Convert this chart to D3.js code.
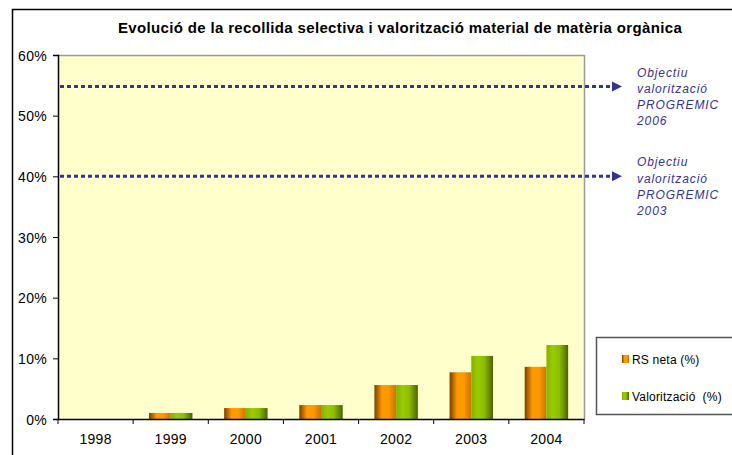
<!DOCTYPE html>
<html>
  <head>
    <meta charset="utf-8">
    <title>Recollida selectiva matèria orgànica</title>
    <script src="https://d3js.org/d3.v7.min.js"></script>
    <style>
      body { margin: 0; background: #fff; }
      svg { display: block; font-family: "Liberation Sans", Arial, sans-serif; }
      .axis text { font-size: 14px; fill: #000; letter-spacing: 0.3px; }
      .axis path, .axis line { stroke: #000; }
    </style>
  </head>
  <body>
    <svg id="chart" width="732" height="455"></svg>
    <script>
      // data
      years = ["1998", "1999", "2000", "2001", "2002", "2003", "2004"];
      rsNeta = [0, 0.010, 0.018, 0.023, 0.056, 0.077, 0.086];
      valoritzacio = [0, 0.010, 0.018, 0.023, 0.056, 0.104, 0.122];
      seriesNames = ["RS neta (%)", "Valorització  (%)"];
      yTicks = [0, 0.1, 0.2, 0.3, 0.4, 0.5, 0.6];
      targets = [0.548, 0.40];
      targetYears = ["2006", "2003"];

      svg = d3.select("#chart");
      margin = { top: 55, right: 148, bottom: 36, left: 58 };
      width = 732;
      height = 455;

      // outer frame
      svg.append("rect")
        .attr("x", 12.5).attr("y", 9.5)
        .attr("width", 740).attr("height", 460)
        .attr("fill", "#fff")
        .attr("stroke", "#000")
        .attr("stroke-width", 1.5);

      // title
      svg.append("text")
        .attr("x", 400).attr("y", 33)
        .attr("text-anchor", "middle")
        .style("font-size", "15px")
        .style("font-weight", "bold")
        .style("letter-spacing", "0.35px")
        .text("Evolució de la recollida selectiva i valorització material de matèria orgànica");

      // gradients for the bars
      defs = svg.append("defs");
      gradOrange = defs.append("linearGradient").attr("id", "gOrange");
      [["0%", "#7a4000"], ["35%", "#ff9900"], ["65%", "#ff9900"], ["100%", "#c87400"]].forEach(function(s) {
        gradOrange.append("stop").attr("offset", s[0]).attr("stop-color", s[1]);
      });
      gradGreen = defs.append("linearGradient").attr("id", "gGreen");
      [["0%", "#86b000"], ["30%", "#99cc00"], ["60%", "#8dbd00"], ["100%", "#4a6400"]].forEach(function(s) {
        gradGreen.append("stop").attr("offset", s[0]).attr("stop-color", s[1]);
      });
      fills = ["url(#gOrange)", "url(#gGreen)"];

      // scales
      x = d3.scaleBand()
        .domain(years)
        .range([margin.left, width - margin.right])
        .padding(0);
      xInner = d3.scaleBand()
        .domain([0, 1])
        .range([0, x.bandwidth()])
        .paddingInner(0)
        .paddingOuter(0.73);
      y = d3.scaleLinear()
        .domain([0, 0.6])
        .range([height - margin.bottom, margin.top]);

      // plot area
      svg.append("rect")
        .attr("x", margin.left).attr("y", margin.top)
        .attr("width", width - margin.right - margin.left)
        .attr("height", y(0) - margin.top)
        .attr("fill", "#ffffcc");
      svg.append("path")
        .attr("d", "M" + margin.left + "," + (margin.top + 0.5) + "H" + (width - margin.right + 0.5) + "V" + y(0))
        .attr("fill", "none")
        .attr("stroke", "#999")
        .attr("stroke-width", 1.5);

      // bars
      data = years.map(function(yr, i) { return { year: yr, values: [rsNeta[i], valoritzacio[i]] }; });
      groups = svg.selectAll(".year")
        .data(data)
        .enter().append("g")
          .attr("class", "year")
          .attr("transform", function(d) { return "translate(" + x(d.year) + ",0)"; });
      groups.selectAll("rect")
        .data(function(d) { return d.values; })
        .enter().append("rect")
          .attr("x", function(d, i) { return xInner(i); })
          .attr("y", function(d) { return y(d); })
          .attr("width", xInner.bandwidth())
          .attr("height", function(d) { return y(0) - y(d); })
          .attr("fill", function(d, i) { return fills[i]; });

      // y axis
      yAxis = d3.axisLeft(y)
        .tickValues(yTicks)
        .tickFormat(d3.format(".0%"))
        .tickSizeOuter(0)
        .tickSize(5)
        .tickPadding(6);
      svg.append("g")
        .attr("class", "axis")
        .attr("transform", "translate(" + margin.left + ",0)")
        .call(yAxis)
        .call(function(g) { g.select(".domain").attr("stroke", "#333").attr("stroke-width", 1.5); })
        .selectAll("text").attr("dy", "0.36em");

      // x axis: labels at band centres, ticks at band boundaries
      xAxis = d3.axisBottom(x).tickSize(0).tickPadding(15).tickSizeOuter(0);
      xg = svg.append("g")
        .attr("class", "axis")
        .attr("transform", "translate(0," + y(0) + ")")
        .call(xAxis);
      xg.select(".domain").attr("stroke", "#333").attr("stroke-width", 1.5);
      xg.selectAll(".boundary")
        .data(years.concat(["end"]))
        .enter().append("line")
          .attr("class", "boundary")
          .attr("x1", function(d, i) { return i < years.length ? x(d) : x.range()[1]; })
          .attr("x2", function(d, i) { return i < years.length ? x(d) : x.range()[1]; })
          .attr("y1", 0).attr("y2", 5)
          .attr("stroke", "#000");

      // target lines with arrows
      arrowEnd = 622;
      targetG = svg.selectAll(".target")
        .data(targets)
        .enter().append("g")
          .attr("class", "target");
      targetG.append("line")
        .attr("x1", margin.left + 2)
        .attr("x2", arrowEnd - 9)
        .attr("y1", function(d) { return y(d); })
        .attr("y2", function(d) { return y(d); })
        .attr("stroke", "#333399")
        .attr("stroke-width", 3)
        .attr("stroke-dasharray", "4,3");
      targetG.append("path")
        .attr("d", function(d) {
          var yy = y(d);
          return "M" + (arrowEnd - 10) + "," + (yy - 5) + "L" + arrowEnd + "," + yy + "L" + (arrowEnd - 10) + "," + (yy + 5) + "Z";
        })
        .attr("fill", "#333399");
      targetG.each(function(d, i) {
        var lines = ["Objectiu", "valorització", "PROGREMIC", targetYears[i]];
        var t = d3.select(this).append("text")
          .attr("x", 637)
          .attr("y", y(d) - 10)
          .style("font-size", "12px")
          .style("font-style", "italic")
          .style("letter-spacing", "0.9px")
          .attr("fill", "#333399");
        t.selectAll("tspan")
          .data(lines)
          .enter().append("tspan")
            .attr("x", 637)
            .attr("dy", function(l, j) { return j === 0 ? 0 : 16.3; })
            .text(function(l) { return l; });
      });

      // legend
      legend = svg.append("g").attr("transform", "translate(596,337)");
      legend.append("rect")
        .attr("x", 0.5).attr("y", 0.5)
        .attr("width", 150).attr("height", 77)
        .attr("fill", "#fff")
        .attr("stroke", "#555")
        .attr("stroke-width", 1.5);
      items = legend.selectAll(".item")
        .data(seriesNames)
        .enter().append("g")
          .attr("class", "item")
          .attr("transform", function(d, i) { return "translate(26," + (18 + i * 37) + ")"; });
      items.append("rect")
        .attr("width", 7).attr("height", 8)
        .attr("fill", function(d, i) { return fills[i]; });
      items.append("text")
        .attr("x", 10).attr("y", 8.5)
        .style("font-size", "12px")
        .style("letter-spacing", "0.2px")
        .style("white-space", "pre")
        .text(function(d) { return d; });
    </script>
  </body>
</html>
